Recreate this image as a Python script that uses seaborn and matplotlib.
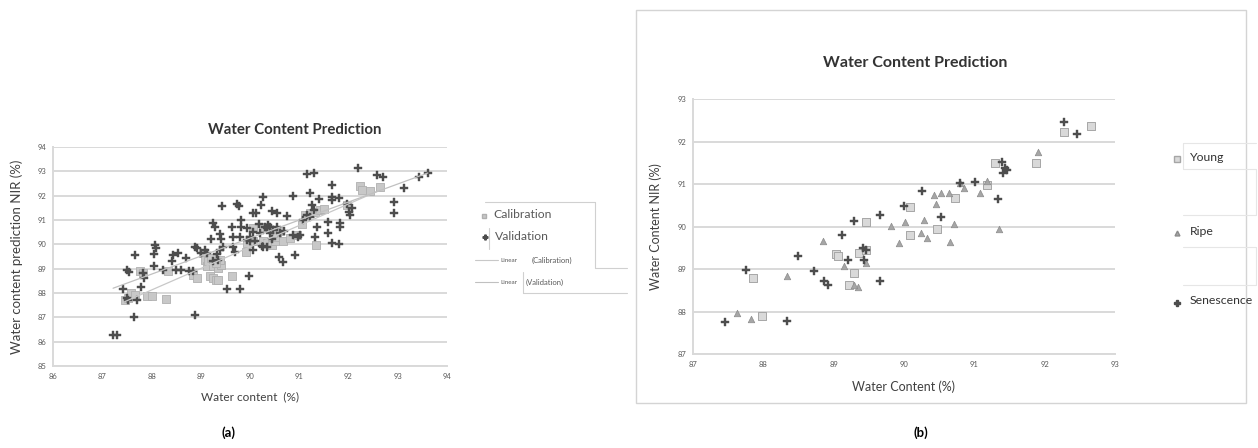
import numpy as np
import pandas as pd
import matplotlib
matplotlib.use("Agg")
import matplotlib.pyplot as plt
from matplotlib.lines import Line2D
from matplotlib.patches import Rectangle
import seaborn as sns

# ---------------- data: chart (a) ----------------
cal_x = [87.46, 87.53, 87.59, 87.66, 87.76, 87.83, 87.90, 88.00, 88.30, 88.34,
         88.85, 88.92, 89.05, 89.08, 89.12, 89.15, 89.19, 89.25, 89.31, 89.36,
         89.25, 89.36, 89.42, 89.39, 89.63, 89.92, 89.93, 90.07, 90.27, 90.34,
         90.44, 90.51, 90.54, 90.47, 90.68, 90.81, 90.95, 91.12, 91.22, 91.32,
         91.42, 91.34, 92.24, 92.27, 92.44, 92.64, 91.97, 90.07, 90.27, 89.20,
         89.30, 90.60, 91.05, 91.50]
cal_y = [87.73, 87.80, 88.00, 87.93, 88.89, 88.82, 87.86, 87.89, 87.76, 88.89,
         88.75, 88.60, 89.64, 89.37, 89.10, 89.30, 88.68, 88.60, 88.55, 88.55,
         89.10, 89.03, 89.16, 89.37, 88.71, 89.67, 90.05, 90.12, 90.12, 90.05,
         89.98, 90.12, 90.32, 90.46, 90.12, 90.25, 90.39, 91.20, 91.28, 91.34,
         91.41, 89.98, 92.39, 92.23, 92.20, 92.37, 91.62, 90.66, 90.73, 89.45,
         89.25, 90.55, 90.85, 91.45]

val_x = [87.22, 87.30, 87.42, 87.50, 87.53, 87.51, 87.55, 87.66, 87.65, 87.70,
         87.78, 87.83, 87.84, 88.05, 88.07, 88.09, 88.05, 88.24, 88.41, 88.44,
         88.53, 88.50, 88.60, 88.71, 88.77, 88.85, 88.88, 88.93, 88.88, 89.08,
         89.20, 89.25, 89.29, 89.39, 89.42, 89.44, 89.53, 89.63, 89.66, 89.69,
         89.73, 89.77, 89.80, 89.82, 89.81, 89.93, 89.97, 90.00, 90.01, 90.07,
         90.12, 90.07, 90.22, 90.27, 90.18, 90.30, 90.34, 90.37, 90.41, 90.44,
         90.54, 90.34, 90.58, 90.66, 90.69, 90.75, 90.87, 90.92, 90.88, 90.98,
         91.15, 91.29, 91.22, 91.25, 91.29, 91.32, 91.36, 91.40, 91.59, 91.59,
         91.66, 91.66, 91.66, 91.66, 91.80, 91.80, 91.82, 91.83, 91.97, 92.00,
         92.03, 92.07, 92.20, 92.58, 92.71, 92.92, 92.92, 93.12, 93.44, 93.61,
         89.33, 89.39, 89.46, 89.66, 89.80, 89.93, 90.07, 90.20, 90.27, 90.41,
         90.47, 90.54, 90.61, 89.00, 89.12, 89.25, 89.36, 91.02, 91.08, 91.15,
         91.22, 90.10, 90.25, 90.45]
val_y = [86.26, 86.26, 88.17, 87.80, 87.73, 88.93, 88.85, 89.57, 87.02, 87.73,
         88.25, 88.82, 88.60, 89.10, 89.98, 89.84, 89.60, 88.93, 89.30, 89.57,
         89.64, 88.96, 88.93, 89.43, 88.89, 88.89, 89.88, 89.84, 87.11, 89.77,
         90.21, 90.87, 90.73, 90.43, 90.21, 91.59, 88.17, 90.70, 90.32, 89.67,
         91.66, 91.58, 88.17, 90.73, 91.00, 90.66, 88.71, 90.32, 90.12, 91.28,
         91.28, 89.75, 91.62, 91.93, 90.84, 90.73, 90.66, 90.80, 90.73, 91.38,
         91.30, 89.91, 89.50, 89.26, 90.53, 91.17, 91.98, 89.57, 90.39, 90.32,
         92.91, 92.94, 92.09, 91.62, 91.41, 90.32, 90.73, 91.86, 90.46, 90.93,
         92.44, 91.96, 91.82, 90.05, 90.02, 91.89, 90.89, 90.73, 91.66, 91.34,
         91.20, 91.48, 93.12, 92.84, 92.75, 91.75, 91.28, 92.30, 92.75, 92.94,
         89.60, 89.75, 89.90, 89.90, 90.32, 90.18, 90.50, 90.46, 89.91, 90.46,
         90.60, 90.73, 90.46, 89.64, 89.64, 89.30, 89.37, 90.39, 91.00, 91.20,
         91.14, 90.15, 89.95, 90.20]

# ---------------- data: chart (b) ----------------
young_x = [87.86, 87.98, 89.03, 89.06, 89.22, 89.29, 89.36, 89.46, 89.46, 90.08,
           90.08, 90.47, 90.73, 91.18, 91.29, 91.88, 92.28, 92.66]
young_y = [88.80, 87.90, 89.36, 89.30, 88.63, 88.91, 89.38, 90.10, 89.45, 90.47,
           89.81, 89.93, 90.67, 90.98, 91.49, 91.49, 92.22, 92.37]
ripe_x = [87.62, 87.83, 88.34, 88.85, 89.15, 89.34, 89.46, 89.81, 89.93, 90.01,
          90.24, 90.29, 90.33, 90.42, 90.46, 90.52, 90.64, 90.66, 90.71, 90.79,
          90.86, 91.08, 91.18, 91.35, 91.90, 89.29]
ripe_y = [87.96, 87.82, 88.84, 89.67, 89.08, 88.58, 89.14, 90.02, 89.61, 90.10,
          89.85, 90.16, 89.73, 90.75, 90.54, 90.79, 90.79, 89.64, 90.07, 91.02,
          90.91, 90.79, 91.06, 89.94, 91.75, 88.63]
sen_x = [87.46, 87.75, 88.34, 88.49, 88.72, 88.86, 88.92, 89.12, 89.20, 89.29,
         89.41, 89.46, 89.43, 89.66, 89.66, 90.00, 90.25, 90.52, 90.79, 91.01,
         91.33, 91.39, 91.43, 91.46, 91.41, 92.28, 92.46]
sen_y = [87.75, 88.98, 87.77, 89.31, 88.95, 88.71, 88.63, 89.81, 89.22, 90.12,
         89.49, 89.44, 89.22, 90.28, 88.71, 90.49, 90.84, 90.22, 91.02, 91.04,
         90.65, 91.52, 91.38, 91.34, 91.26, 92.46, 92.18]

ticks_a_x = list(range(86, 95))
ticks_a_y = list(range(85, 95))
ticks_b = list(range(87, 94))

# ---------------- figure ----------------
sns.set_theme(style="white")
plt.rcParams['font.family'] = ['Lato', 'DejaVu Sans']

W, H = 1258, 448
fig = plt.figure(figsize=(W / 100, H / 100), dpi=100)
fig.patch.set_facecolor("white")

def fx(px):
    return px / W

def fy(py):
    return 1 - py / H

GRID = "#d9d9d9"
TXT = "#595959"
LAB = "#404040"

def style_axes(ax, xt, yt):
    ax.set_xticks(xt)
    ax.set_yticks(yt)
    ax.set_xticklabels([str(t) for t in xt])
    ax.set_yticklabels([str(t) for t in yt])
    ax.tick_params(axis="both", length=0, labelsize=5.5, colors=TXT, pad=5)
    ax.yaxis.grid(True, color=GRID, lw=1.4)
    ax.xaxis.grid(False)
    for s in ["top", "right"]:
        ax.spines[s].set_visible(False)
    for s in ["left", "bottom"]:
        ax.spines[s].set_color(GRID)
        ax.spines[s].set_linewidth(1.4)
    ax.set_axisbelow(True)
    ax.set_facecolor("white")

# ---- chart (a)
ax1 = fig.add_axes([fx(53), fy(366), fx(447) - fx(53), fy(147) - fy(366)])
df_a = pd.DataFrame({
    "x": cal_x + val_x,
    "y": cal_y + val_y,
    "set": ["Calibration"] * len(cal_x) + ["Validation"] * len(val_x),
})
sns.scatterplot(data=df_a[df_a.set == "Calibration"], x="x", y="y", ax=ax1,
                marker="s", s=28, color="#c8c8c8", edgecolor="#b0b0b0",
                linewidth=0.6, legend=False, zorder=3)
sns.scatterplot(data=df_a[df_a.set == "Validation"], x="x", y="y", ax=ax1,
                marker="P", s=32, color="#4d4d4d", edgecolor="#4d4d4d",
                linewidth=0.3, legend=False, zorder=4)
sns.regplot(data=df_a[df_a.set == "Calibration"], x="x", y="y", ax=ax1,
            scatter=False, ci=None, truncate=True,
            line_kws=dict(color="#c8c8c8", lw=0.9, zorder=5))
sns.regplot(data=df_a[df_a.set == "Validation"], x="x", y="y", ax=ax1,
            scatter=False, ci=None, truncate=True,
            line_kws=dict(color="#c0c0c0", lw=0.9, zorder=5))
ax1.set_xlim(86, 94)
ax1.set_ylim(85, 94)
style_axes(ax1, ticks_a_x, ticks_a_y)
ax1.set_xlabel("Water content  (%)", fontsize=8.5, color=LAB, labelpad=8)
ax1.set_ylabel("Water content prediction NIR (%)", fontsize=9.5, color=LAB,
               labelpad=10)
fig.text(fx(295), fy(130), "Water Content Prediction", ha="center",
         va="center", fontsize=10.8, fontweight="bold", color="#333333")

# legend (a) drawn in figure coords
fig.add_artist(Line2D([fx(484)], [fy(216)], marker="s", ms=3.5,
                      color="#c8c8c8", mec="#b0b0b0", ls=""))
fig.text(fx(493), fy(214), "Calibration", fontsize=8.7, color=TXT, va="center")
fig.add_artist(Line2D([fx(485)], [fy(237)], marker="P", ms=3.5,
                      color="#4d4d4d", ls=""))
fig.text(fx(495), fy(237), "Validation", fontsize=8.7, color=TXT, va="center")
fig.add_artist(Line2D([fx(475), fx(498)], [fy(260), fy(260)], color="#c8c8c8", lw=0.8))
fig.text(fx(500), fy(260), "Linear", fontsize=4.5, color=TXT, va="center")
fig.text(fx(532), fy(260), "(Calibration)", fontsize=5.5, color=TXT, va="center")
fig.add_artist(Line2D([fx(475), fx(498)], [fy(282), fy(282)], color="#c0c0c0", lw=0.8))
fig.text(fx(500), fy(282), "Linear", fontsize=4.5, color=TXT, va="center")
fig.text(fx(526), fy(282), "(Validation)", fontsize=5.5, color=TXT, va="center")
boxc = "#d0d0d0"
for (x0, y0, x1, y1) in [(485, 202, 595, 202), (595, 202, 595, 268),
                         (595, 268, 627, 268), (489, 228, 489, 249),
                         (523, 272, 523, 293), (523, 293, 627, 293)]:
    fig.add_artist(Line2D([fx(x0), fx(x1)], [fy(y0), fy(y1)], color=boxc, lw=0.8))

# ---- chart (b)
fig.add_artist(Rectangle((fx(636), fy(403)), fx(1246) - fx(636), fy(10) - fy(403),
                         fill=False, edgecolor="#d4d4d4", lw=1.0))
ax2 = fig.add_axes([fx(693), fy(354), fx(1115) - fx(693), fy(99) - fy(354)])
df_b = pd.DataFrame({
    "x": young_x + ripe_x + sen_x,
    "y": young_y + ripe_y + sen_y,
    "stage": ["Young"] * len(young_x) + ["Ripe"] * len(ripe_x) + ["Senescence"] * len(sen_x),
})
sns.scatterplot(data=df_b[df_b.stage == "Young"], x="x", y="y", ax=ax2,
                marker="s", s=30, color="#d9d9d9", edgecolor="#a6a6a6",
                linewidth=0.7, legend=False, zorder=3)
sns.scatterplot(data=df_b[df_b.stage == "Ripe"], x="x", y="y", ax=ax2,
                marker="^", s=22, color="#a6a6a6", edgecolor="#8c8c8c",
                linewidth=0.5, legend=False, zorder=4)
sns.scatterplot(data=df_b[df_b.stage == "Senescence"], x="x", y="y", ax=ax2,
                marker="P", s=30, color="#4d4d4d", edgecolor="#4d4d4d",
                linewidth=0.3, legend=False, zorder=5)
ax2.set_xlim(87, 93)
ax2.set_ylim(87, 93)
style_axes(ax2, ticks_b, ticks_b)
ax2.set_xlabel("Water Content (%)", fontsize=9, color=LAB, labelpad=9)
ax2.set_ylabel("Water Content NIR (%)", fontsize=9, color=LAB, labelpad=11)
fig.text(fx(915), fy(63), "Water Content Prediction", ha="center",
         va="center", fontsize=11.5, fontweight="bold", color="#333333")

# legend (b)
leg_items = [("Young", 157, dict(marker="s", ms=4, color="#d9d9d9", mec="#a6a6a6")),
             ("Ripe", 231, dict(marker="^", ms=3.5, color="#a6a6a6", mec="#8c8c8c")),
             ("Senescence", 301, dict(marker="P", ms=4, color="#4d4d4d", mec="#4d4d4d"))]
for lab, py, kw in leg_items:
    fig.add_artist(Line2D([fx(1177)], [fy(py + 2)], ls="", **kw))
    fig.text(fx(1190), fy(py), lab, fontsize=8.8, color="#333333", va="center")
for (x0, y0, x1, y1) in [(1183, 143, 1256, 143), (1183, 169, 1256, 169),
                         (1183, 143, 1183, 169), (1256, 169, 1256, 215),
                         (1183, 215, 1256, 215), (1183, 247, 1256, 247),
                         (1256, 247, 1256, 285), (1183, 285, 1256, 285)]:
    fig.add_artist(Line2D([fx(x0), fx(x1)], [fy(y0), fy(y1)], color="#e6e6e6", lw=0.8))

# panel labels
fig.text(fx(228), fy(433), "(a)", ha="center", va="center", fontsize=9.5,
         fontweight="bold", color="black")
fig.text(fx(921), fy(433), "(b)", ha="center", va="center", fontsize=9.5,
         fontweight="bold", color="black")

fig.savefig("out.png", dpi=100, facecolor="white")
